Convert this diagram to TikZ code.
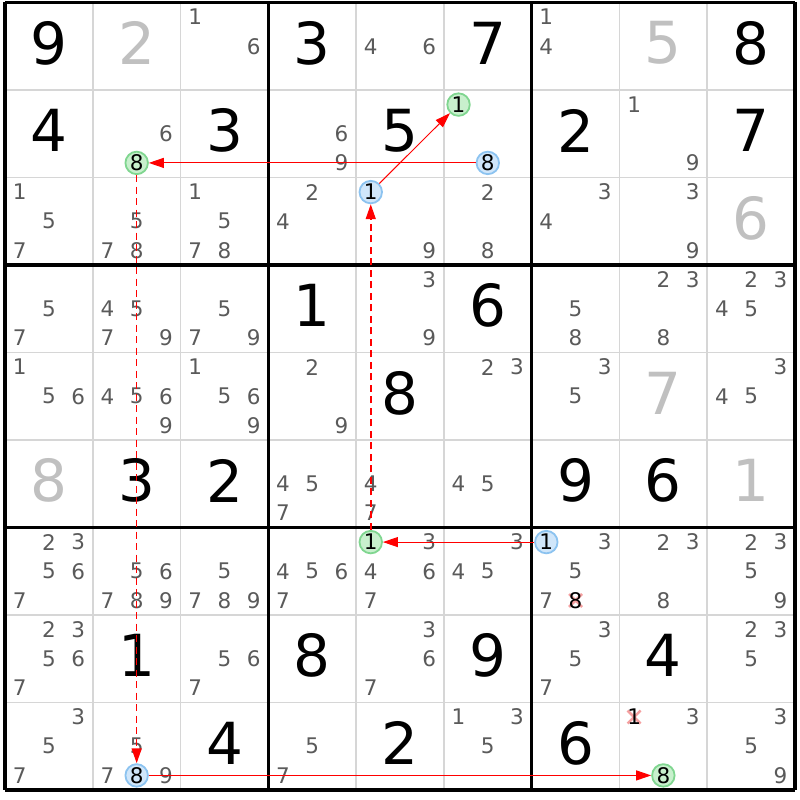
\documentclass[tikz,border=0pt]{standalone}
\usepackage{fontspec}
\setmainfont{DejaVu Sans}
\usetikzlibrary{arrows.meta}
\definecolor{candc}{RGB}{90,90,90}
\definecolor{solvc}{RGB}{192,192,192}
\definecolor{gridc}{RGB}{214,214,214}
\definecolor{gfill}{RGB}{200,240,205}
\definecolor{gdraw}{RGB}{128,214,144}
\definecolor{bfill}{RGB}{208,230,250}
\definecolor{bdraw}{RGB}{140,195,240}
\definecolor{xcol}{RGB}{245,160,160}
\definecolor{linkc}{RGB}{255,0,0}
\newcommand\SetPos[3]{\pgfmathsetmacro\px{5+#2*87.78+(2*mod(#3-1,3)+1)*14.63}\pgfmathsetmacro\py{2.5+#1*87.5+(2*floor((#3-1)/3)+1)*14.583}}
\newcommand\Giv[4][given]{\node[#1] (g#2#3) at ({5+(#3+0.5)*87.78},{2.5+(#2+0.5)*87.5-3}) {#4};}
\newcommand\Cands[3]{\foreach \k in {#3}{\SetPos{#1}{#2}{\k}\node[cand] (c#1#2\k) at (\px,\py) {\k};}}
\newcommand\Hi[6]{\SetPos{#3}{#4}{#5}\node[#1] (#2) at (\px,\py) {#6};}
\newcommand\Elim[3]{\SetPos{#1}{#2}{#3}%
  \draw[xmark] (\px-6.5,\py-6.5) -- (\px+6.5,\py+6.5) (\px-6.5,\py+6.5) -- (\px+6.5,\py-6.5);%
  \node[elimd] (e#1#2#3) at (\px,\py) {#3};}
\tikzset{
  given/.style={inner sep=0pt,font=\fontsize{58}{58}\selectfont,text=black},
  solved/.style={given,text=solvc},
  cand/.style={inner sep=0pt,font=\fontsize{21.5}{21.5}\selectfont,text=candc},
  elimd/.style={cand,text=black},
  xmark/.style={draw=xcol,line width=2.5pt},
  gcirc/.style={circle,inner sep=0pt,minimum size=22.5pt,fill=gfill,draw=gdraw,line width=1.8pt,font=\fontsize{21.5}{21.5}\selectfont,text=black},
  bcirc/.style={gcirc,fill=bfill,draw=bdraw},
  link/.style={draw=linkc,line width=1pt,-{Triangle[length=15pt,width=10pt]}},
  dlink/.style={link,line width=1.6pt,dash pattern=on 7pt off 4.5pt},
  thin/.style={draw=gridc,line width=1.6pt},
  thick/.style={draw=black,line width=3.2pt}
}
\begin{document}
\begin{tikzpicture}[x=1pt,y=-1pt]
\useasboundingbox (0,0) rectangle (800,800);
\fill[white] (0,0) rectangle (800,800);
% grid
\foreach \i in {1,2,4,5,7,8}{
  \draw[thin] ({5+\i*87.78},2.5) -- ({5+\i*87.78},790);
  \draw[thin] (5,{2.5+\i*87.5}) -- (795,{2.5+\i*87.5});
}
\foreach \i in {0,3,6,9}{
  \draw[thick] ({5+\i*87.78},2.5) -- ({5+\i*87.78},790);
  \draw[thick] (5,{2.5+\i*87.5}) -- (795,{2.5+\i*87.5});
}
% row 0
\Giv{0}{0}{9} \Giv[solved]{0}{1}{2} \Cands{0}{2}{1,6} \Giv{0}{3}{3} \Cands{0}{4}{4,6}
\Giv{0}{5}{7} \Cands{0}{6}{1,4} \Giv[solved]{0}{7}{5} \Giv{0}{8}{8}
% row 1
\Giv{1}{0}{4} \Cands{1}{1}{6} \Giv{1}{2}{3} \Cands{1}{3}{6,9} \Giv{1}{4}{5}
\Giv{1}{6}{2} \Cands{1}{7}{1,9} \Giv{1}{8}{7}
% row 2
\Cands{2}{0}{1,5,7} \Cands{2}{1}{5,7,8} \Cands{2}{2}{1,5,7,8} \Cands{2}{3}{2,4}
\Cands{2}{4}{9} \Cands{2}{5}{2,8} \Cands{2}{6}{3,4} \Cands{2}{7}{3,9} \Giv[solved]{2}{8}{6}
% row 3
\Cands{3}{0}{5,7} \Cands{3}{1}{4,5,7,9} \Cands{3}{2}{5,7,9} \Giv{3}{3}{1} \Cands{3}{4}{3,9}
\Giv{3}{5}{6} \Cands{3}{6}{5,8} \Cands{3}{7}{2,3,8} \Cands{3}{8}{2,3,4,5}
% row 4
\Cands{4}{0}{1,5,6} \Cands{4}{1}{4,5,6,9} \Cands{4}{2}{1,5,6,9} \Cands{4}{3}{2,9} \Giv{4}{4}{8}
\Cands{4}{5}{2,3} \Cands{4}{6}{3,5} \Giv[solved]{4}{7}{7} \Cands{4}{8}{3,4,5}
% row 5
\Giv[solved]{5}{0}{8} \Giv{5}{1}{3} \Giv{5}{2}{2} \Cands{5}{3}{4,5,7} \Cands{5}{4}{4,7}
\Cands{5}{5}{4,5} \Giv{5}{6}{9} \Giv{5}{7}{6} \Giv[solved]{5}{8}{1}
% row 6
\Cands{6}{0}{2,3,5,6,7} \Cands{6}{1}{5,6,7,8,9} \Cands{6}{2}{5,7,8,9} \Cands{6}{3}{4,5,6,7}
\Cands{6}{4}{3,4,6,7} \Cands{6}{5}{3,4,5} \Cands{6}{6}{3,5,7} \Elim{6}{6}{8}
\Cands{6}{7}{2,3,8} \Cands{6}{8}{2,3,5,9}
% row 7
\Cands{7}{0}{2,3,5,6,7} \Giv{7}{1}{1} \Cands{7}{2}{5,6,7} \Giv{7}{3}{8} \Cands{7}{4}{3,6,7}
\Giv{7}{5}{9} \Cands{7}{6}{3,5,7} \Giv{7}{7}{4} \Cands{7}{8}{2,3,5}
% row 8
\Cands{8}{0}{3,5,7} \Cands{8}{1}{5,7,9} \Giv{8}{2}{4} \Cands{8}{3}{5,7} \Giv{8}{4}{2}
\Cands{8}{5}{1,3,5} \Giv{8}{6}{6} \Cands{8}{7}{3} \Elim{8}{7}{1} \Cands{8}{8}{3,5,9}
% highlighted candidates
\Hi{gcirc}{g8a}{1}{1}{8}{8}
\Hi{bcirc}{b8a}{1}{5}{8}{8}
\Hi{gcirc}{g1a}{1}{5}{1}{1}
\Hi{bcirc}{b1a}{2}{4}{1}{1}
\Hi{gcirc}{g1b}{6}{4}{1}{1}
\Hi{bcirc}{b1b}{6}{6}{1}{1}
\Hi{bcirc}{b8b}{8}{1}{8}{8}
\Hi{gcirc}{g8b}{8}{7}{8}{8}
% links
\draw[link] (b8a) -- (g8a);
\draw[link] (b1a) -- (g1a);
\draw[dlink] (g1b) -- (b1a);
\draw[link] (b1b) -- (g1b);
\draw[dlink] (g8a) -- (b8b);
\draw[link] (b8b) -- (g8b);
\end{tikzpicture}
\end{document}
